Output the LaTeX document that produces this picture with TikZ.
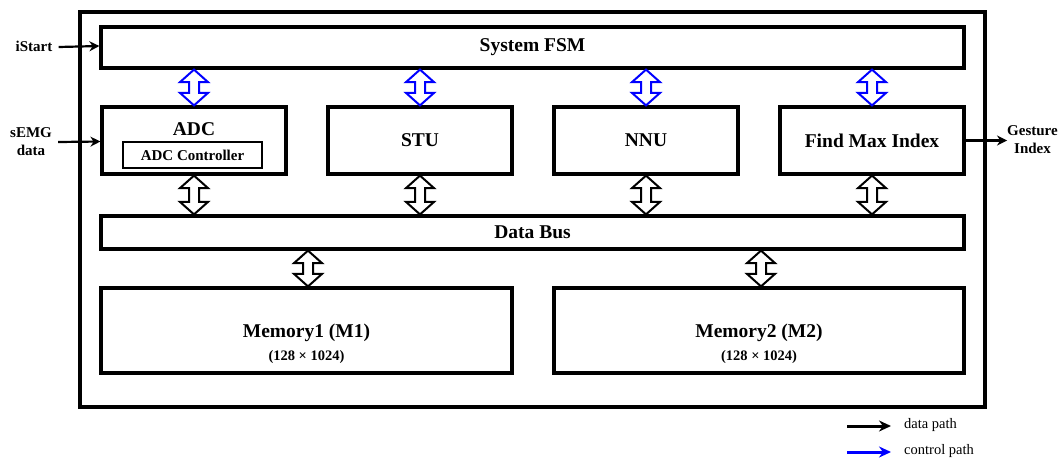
\documentclass[tikz,border=0pt]{standalone}
\usepackage{fontspec}
\setmainfont{Liberation Serif}
\usetikzlibrary{arrows.meta,calc}

% hollow two-way arrow between two points on the same vertical line
\newcommand\twoway[3]{%
  \draw[twowaystyle,#1] let \p1=#2, \p2=#3 in
    (\x1,\y1) -- (\x1+14pt,\y1-12.5pt) -- (\x1+5pt,\y1-12.5pt)
    -- (\x1+5pt,\y2+12.5pt) -- (\x1+14pt,\y2+12.5pt) -- (\x1,\y2)
    -- (\x1-14pt,\y2+12.5pt) -- (\x1-5pt,\y2+12.5pt)
    -- (\x1-5pt,\y1-12.5pt) -- (\x1-14pt,\y1-12.5pt) -- cycle;}

\tikzset{
  blk/.style={draw, line width=3.2pt, fill=white, inner sep=0pt, align=center,
    font=\fontsize{19.5}{22}\selectfont\bfseries},
  mainlbl/.style={inner sep=0pt, anchor=base, font=\fontsize{19.5}{22}\selectfont\bfseries},
  sublbl/.style={inner sep=0pt, anchor=base, font=\fontsize{14.5}{17}\selectfont\bfseries},
  iolbl/.style={align=center, inner sep=0pt, font=\fontsize{15}{18}\selectfont\bfseries},
  twowaystyle/.style={line width=2pt, fill=white, line join=miter},
  sig/.style={line width=2.2pt, -{Stealth[length=10pt,width=10pt]}},
  legarrow/.style={line width=3pt, -{Stealth[length=12pt,width=11pt]}},
  leglbl/.style={anchor=west, inner sep=0pt, font=\fontsize{14.5}{17}\selectfont},
}

\begin{document}
\begin{tikzpicture}[x=1pt,y=-1pt]
  \path[fill=white] (0,0) rectangle (1059,459);
  \useasboundingbox (0,0) rectangle (1059,459);

  % enclosing frame
  \draw[line width=4.5pt] (80,12) rectangle (985,407);

  % blocks
  \node[blk, minimum width=863pt, minimum height=41pt] (fsm) at (532.5,47.5) {System FSM};
  \node[blk, minimum width=184pt, minimum height=67pt] (adc) at (194,140.5) {};
  \node[font=\fontsize{19.5}{22}\selectfont\bfseries, inner sep=0pt] (adclbl) at (194,129) {ADC};
  \node[draw, line width=1.5pt, minimum width=139pt, minimum height=26pt, inner sep=0pt,
        font=\fontsize{15}{18}\selectfont\bfseries] (ctrl) at (192.5,155) {ADC Controller};
  \node[blk, minimum width=184pt, minimum height=67pt] (stu) at (420,140.5) {STU};
  \node[blk, minimum width=184pt, minimum height=67pt] (nnu) at (646,140.5) {NNU};
  \node[blk, minimum width=184pt, minimum height=67pt] (fmi) at (872,140.5) {Find Max Index};
  \node[blk, minimum width=863pt, minimum height=33pt] (bus) at (532.5,232.5) {Data Bus};
  \node[blk, minimum width=411pt, minimum height=85pt] (m1) at (306.5,330.5) {};
  \node[blk, minimum width=410pt, minimum height=85pt] (m2) at (759,330.5) {};
  \node[mainlbl] (m1lbl) at (306.5,337) {Memory1 (M1)};
  \node[sublbl] (m1size) at (306.5,360) {(128 × 1024)};
  \node[mainlbl] (m2lbl) at (759,337) {Memory2 (M2)};
  \node[sublbl] (m2size) at (759,360) {(128 × 1024)};

  % control links from the FSM
  \foreach \b in {adc,stu,nnu,fmi}
    \twoway{draw=blue}{(fsm.south -| \b.north)}{(\b.north)};

  % data links to the bus
  \foreach \b in {adc,stu,nnu,fmi}
    \twoway{draw=black}{(\b.south)}{(bus.north -| \b.south)};
  \coordinate (m1tap) at ($(m1.north)+(1.5,0)$);
  \coordinate (m2tap) at ($(m2.north)+(2,0)$);
  \twoway{draw=black}{(bus.south -| m1tap)}{(m1tap)};
  \twoway{draw=black}{(bus.south -| m2tap)}{(m2tap)};

  % external signals
  \node[iolbl] (istart) at (34,46) {iStart};
  \draw[sig] ($(istart.east)+(6,1)$) -- (istart.east -| fsm.west);
  \node[iolbl] (semg) at (31,141.5) {sEMG\\data};
  \draw[sig] ($(semg.east)+(6,0.5)$) -- (semg.east -| adc.west);
  \node[iolbl] (gest) at (1032.5,139.5) {Gesture\\Index};
  \draw[sig] (fmi.east) -- (fmi.east -| gest.west);

  % legend
  \coordinate (d0) at (847,426);
  \coordinate (d1) at (891,426);
  \coordinate (c0) at (847,452);
  \coordinate (c1) at (891,452);
  \draw[legarrow, black] (d0) -- (d1);
  \draw[legarrow, blue] (c0) -- (c1);
  \node[leglbl] (dlbl) at (904,425) {data path};
  \node[leglbl] (clbl) at (904,451) {control path};
\end{tikzpicture}
\end{document}
